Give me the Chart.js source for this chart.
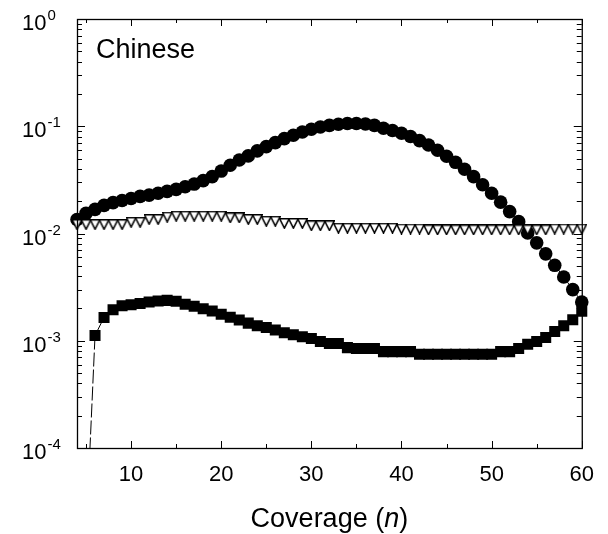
<!DOCTYPE html>
<html>
<head>
<meta charset="utf-8">
<script src="https://cdn.jsdelivr.net/npm/chart.js@4"></script>
<style>
  html, body { margin: 0; padding: 0; background: #fff; }
  #wrap { width: 608px; height: 534px; position: relative; }
</style>
</head>
<body>
<div id="wrap"><canvas id="coverageChart"></canvas></div>
<script>
// Coverage values (n)
const coverage = [4, 5, 6, 7, 8, 9, 10, 11, 12, 13, 14, 15, 16, 17, 18, 19, 20, 21, 22, 23, 24, 25, 26, 27, 28, 29,
    30, 31, 32, 33, 34, 35, 36, 37, 38, 39, 40, 41, 42, 43, 44, 45, 46, 47, 48, 49, 50, 51, 52, 53, 54, 55, 56, 57, 58, 59, 60];

// filled circles
const circleValues = [0.0135, 0.0154, 0.0168, 0.0183, 0.0194, 0.0203, 0.0212, 0.0222, 0.0228, 0.0237, 0.0247, 0.0258,
    0.0273, 0.0289, 0.0311, 0.0339, 0.0382, 0.0433, 0.0485, 0.0529, 0.0589, 0.0646, 0.0704, 0.0767, 0.0824, 0.0885,
    0.0937, 0.0985, 0.102, 0.1044, 0.106, 0.106, 0.105, 0.102, 0.0957, 0.0912, 0.0861, 0.0802, 0.0735, 0.0668, 0.0597,
    0.0525, 0.0461, 0.0397, 0.0339, 0.0285, 0.0237, 0.0196, 0.0160, 0.0129, 0.0101, 0.00818, 0.00646, 0.00505, 0.00393,
    0.0030, 0.0023];

// open down triangles
const triangleValues = [0.0121, 0.0121, 0.0121, 0.0121, 0.0121, 0.0121, 0.0127, 0.0127, 0.0135, 0.0135, 0.0142,
    0.0145, 0.0145, 0.0145, 0.0145, 0.0145, 0.0145, 0.0140, 0.0140, 0.0135, 0.0135, 0.0130, 0.0130, 0.0124, 0.0124,
    0.0124, 0.0118, 0.0118, 0.0118, 0.0112, 0.0112, 0.0112, 0.0112, 0.0112, 0.0112, 0.0112, 0.0110, 0.0110, 0.0110,
    0.0108, 0.0108, 0.0108, 0.0108, 0.0108, 0.0108, 0.0108, 0.0108, 0.0108, 0.0108, 0.0108, 0.0108, 0.0108, 0.0108,
    0.0110, 0.0110, 0.0110, 0.0110];

// filled squares (n=5 point only anchors the dashed segment)
const squareValues = [null, 0.000015, 0.00112, 0.00165, 0.00195, 0.00212, 0.00217, 0.00222, 0.0023, 0.00235, 0.00238,
    0.00234, 0.00219, 0.00210, 0.00199, 0.00189, 0.00177, 0.00166, 0.00156, 0.00146, 0.00138, 0.00133, 0.00126,
    0.00119, 0.00114, 0.00109, 0.00105, 0.000984, 0.000942, 0.000942, 0.000863, 0.000845, 0.000845, 0.000845,
    0.000792, 0.000792, 0.000792, 0.000792, 0.000748, 0.000748, 0.000748, 0.000748, 0.000748, 0.000748, 0.000748,
    0.000748, 0.000748, 0.000792, 0.000792, 0.000845, 0.000927, 0.000984, 0.00107, 0.00122, 0.00138, 0.00157, 0.00188];

const xMajorTicks = [10, 20, 30, 40, 50, 60];
const xMinorTicks = [5, 15, 25, 35, 45, 55];
const yExponents = [-4, -3, -2, -1, 0];

const FONT = "'Liberation Sans', Arial, sans-serif";

// marker: open triangle pointing down
function downTriangle() {
    const c = document.createElement('canvas');
    c.width = 11; c.height = 11;
    const g = c.getContext('2d');
    g.beginPath();
    g.moveTo(0.8, 0.8);
    g.lineTo(10.2, 0.8);
    g.lineTo(5.5, 10.2);
    g.closePath();
    g.fillStyle = '#fff';
    g.fill();
    g.strokeStyle = '#000';
    g.lineWidth = 1.5;
    g.stroke();
    return c;
}

const toPoints = vals => coverage.map((n, i) => ({ x: n, y: vals[i] }));

// frame, inward ticks, log labels, titles
const decorPlugin = {
    id: 'decor',
    afterDraw(chart) {
        const { ctx, chartArea: a, scales } = chart;
        const xs = scales.x, ys = scales.y;
        ctx.save();
        ctx.strokeStyle = '#000';
        ctx.lineWidth = 1.3;
        ctx.strokeRect(a.left + 0.5, a.top + 0.5, a.right - a.left, a.bottom - a.top);

        ctx.lineWidth = 1;
        ctx.beginPath();
        const tickX = (v, len) => {
            const px = Math.round(xs.getPixelForValue(v)) + 0.5;
            ctx.moveTo(px, a.bottom); ctx.lineTo(px, a.bottom - len);
            ctx.moveTo(px, a.top); ctx.lineTo(px, a.top + len);
        };
        xMajorTicks.forEach(v => tickX(v, 7));
        xMinorTicks.forEach(v => tickX(v, 4));

        const tickY = (v, len) => {
            const py = Math.round(ys.getPixelForValue(v)) + 0.5;
            ctx.moveTo(a.left, py); ctx.lineTo(a.left + len, py);
            ctx.moveTo(a.right, py); ctx.lineTo(a.right - len, py);
        };
        yExponents.forEach(e => {
            tickY(Math.pow(10, e), 8);
            if (e < 0) for (let k = 2; k <= 9; k++) tickY(k * Math.pow(10, e), 5);
        });
        ctx.stroke();

        // y labels 10^e
        ctx.fillStyle = '#000';
        ctx.textBaseline = 'alphabetic';
        ctx.textAlign = 'left';
        yExponents.forEach(e => {
            const py = ys.getPixelForValue(Math.pow(10, e));
            ctx.font = '22px ' + FONT;
            ctx.fillText('10', 22, py + 11);
            const w = ctx.measureText('10').width;
            ctx.font = '15px ' + FONT;
            ctx.fillText(e === 0 ? '0' : '-' + (-e), 22 + w + 1, py + 1);
        });

        // x title with italic n
        const cx = (a.left + a.right) / 2;
        const parts = [['Coverage (', ''], ['n', 'italic '], [')', '']];
        let total = 0;
        parts.forEach(p => { ctx.font = p[1] + '27px ' + FONT; total += ctx.measureText(p[0]).width; });
        let x = cx - total / 2;
        parts.forEach(p => {
            ctx.font = p[1] + '27px ' + FONT;
            ctx.fillText(p[0], x, 527);
            x += ctx.measureText(p[0]).width;
        });

        // panel label
        ctx.font = '27px ' + FONT;
        ctx.fillText('Chinese', 96, 58);
        ctx.restore();
    }
};

new Chart(document.getElementById('coverageChart'), {
    type: 'line',
    data: {
        datasets: [
            {
                label: 'triangles',
                data: toPoints(triangleValues),
                showLine: false,
                pointStyle: downTriangle(),
                pointRadius: 5.5,
                clip: false
            },
            {
                label: 'circles',
                data: toPoints(circleValues),
                borderColor: '#000',
                borderWidth: 1,
                backgroundColor: '#000',
                pointBackgroundColor: '#000',
                pointBorderColor: '#000',
                pointStyle: 'circle',
                pointRadius: 6.8,
                pointBorderWidth: 0,
                clip: false
            },
            {
                label: 'squares',
                data: toPoints(squareValues),
                borderColor: '#000',
                borderWidth: 1,
                pointBackgroundColor: '#000',
                pointBorderColor: '#000',
                pointStyle: 'rect',
                pointRadius: ctx => ctx.dataIndex <= 1 ? 0 : 7.8,
                pointBorderWidth: 0,
                segment: {
                    borderDash: ctx => ctx.p0DataIndex === 1 ? [14, 3] : undefined
                },
                clip: { left: 20, right: 20, top: 20, bottom: 0 }
            }
        ]
    },
    options: {
        responsive: true,
        maintainAspectRatio: false,
        animation: false,
        layout: { padding: { top: 19, right: 25, left: 0, bottom: 0 } },
        plugins: {
            legend: { display: false },
            tooltip: { enabled: false }
        },
        elements: { line: { tension: 0 } },
        scales: {
            x: {
                type: 'linear',
                min: 4,
                max: 60,
                grid: { display: false, drawTicks: false },
                border: { display: false },
                ticks: { color: '#000', font: { size: 22, family: FONT }, padding: 14, maxRotation: 0 },
                afterBuildTicks: s => { s.ticks = xMajorTicks.map(v => ({ value: v })); },
                afterFit: s => { s.height = 86; }
            },
            y: {
                type: 'logarithmic',
                min: 1e-4,
                max: 1,
                grid: { display: false, drawTicks: false },
                border: { display: false },
                ticks: { display: false },
                afterFit: s => { s.width = 77; }
            }
        }
    },
    plugins: [decorPlugin]
});
</script>
</body>
</html>
